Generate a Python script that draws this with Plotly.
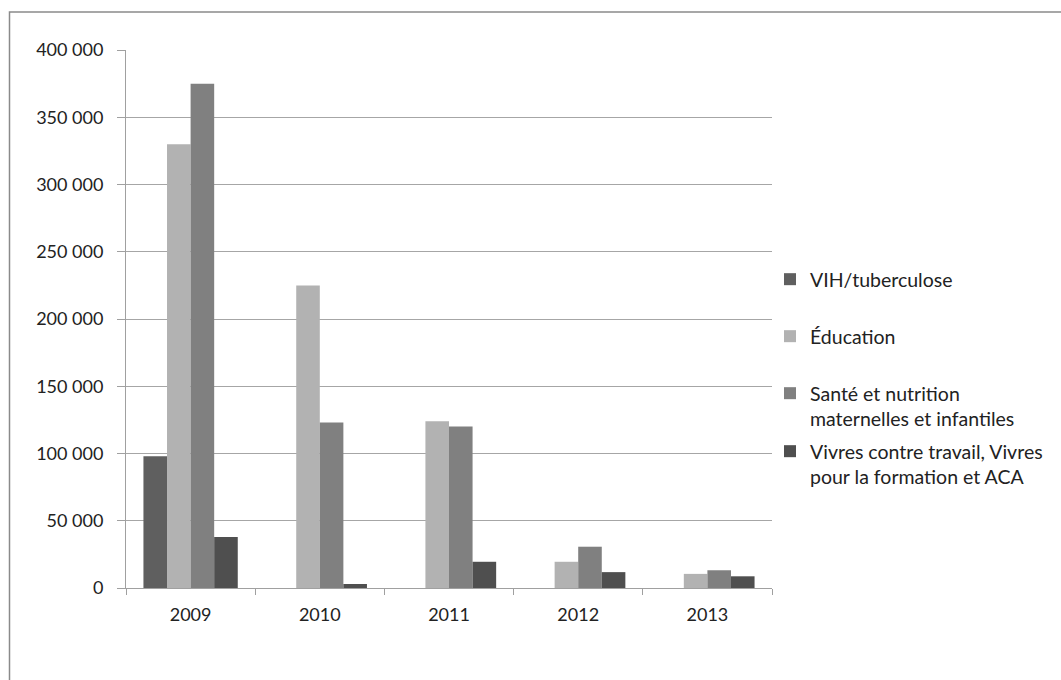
import plotly.graph_objects as go

years = ["2009", "2010", "2011", "2012", "2013"]
series_names = [
    "VIH/tuberculose",
    "Éducation",
    "Santé et nutrition<br>maternelles et infantiles",
    "Vivres contre travail, Vivres<br>pour la formation et ACA",
]
vih = [98000, None, None, None, None]
education = [330000, 225000, 124000, 19500, 10500]
sante = [375000, 123000, 120000, 30700, 13200]
vivres = [38000, 3000, 19500, 11800, 8700]

colors = ["#5f5f5f", "#b2b2b2", "#808080", "#4f4f4f"]
values = [vih, education, sante, vivres]
legend_ids = ["legend", "legend2", "legend3", "legend4"]

FONT = "Lato"

fig = go.Figure()
for name, vals, col, lg in zip(series_names, values, colors, legend_ids):
    fig.add_trace(go.Bar(x=years, y=vals, name=name, marker=dict(color=col, line=dict(width=0)),
                         legend=lg, showlegend=True))

W, H = 1061, 680
L, R, T, B = 126, 289, 50, 92

def lg_layout(ytop):
    return dict(xref="container", yref="container", x=770 / W, y=1 - ytop / H,
                xanchor="left", yanchor="top", valign="top",
                font=dict(family=FONT, size=19.5, color="#222"),
                bgcolor="rgba(0,0,0,0)", itemwidth=30, tracegroupgap=0)

legend_tops = [260, 317, 374, 432]

fig.update_layout(
    width=W, height=H,
    margin=dict(l=L, r=R, t=T, b=B, autoexpand=False),
    paper_bgcolor="white", plot_bgcolor="white",
    separators=". ",
    barmode="group", bargap=0.27, bargroupgap=0,
    showlegend=True,
    font=dict(family=FONT, size=18, color="#222"),
    legend=lg_layout(legend_tops[0]),
    legend2=lg_layout(legend_tops[1]),
    legend3=lg_layout(legend_tops[2]),
    legend4=lg_layout(legend_tops[3]),
    xaxis=dict(type="category", showline=True, linecolor="#a0a0a0", linewidth=1,
               ticks="outside", tickson="boundaries", ticklen=6, tickcolor="#a0a0a0",
               showgrid=False, ticklabelstandoff=10,
               tickfont=dict(family=FONT, size=18, color="#222")),
    yaxis=dict(range=[0, 400000], dtick=50000, tickformat=",d", showline=True,
               linecolor="#a0a0a0", linewidth=1, ticks="outside", ticklen=8,
               tickcolor="#a0a0a0", gridcolor="#a6a6a6", gridwidth=1,
               zeroline=False, ticklabelstandoff=10,
               tickfont=dict(family=FONT, size=18, color="#222")),
    shapes=[dict(type="rect", xref="paper", yref="paper",
                 x0=(9.5 - L) / (W - L - R), x1=(W + 20 - L) / (W - L - R),
                 y0=(H - B - (H + 20)) / (H - T - B), y1=(H - B - 12) / (H - T - B),
                 line=dict(color="#8a8a8a", width=1.5), layer="below")],
)

fig.write_html("out.html")
